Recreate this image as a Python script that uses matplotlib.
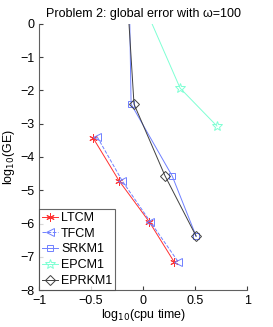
import matplotlib
matplotlib.use("Agg")
import matplotlib.pyplot as plt

plt.rcParams['font.family'] = ['Liberation Sans', 'DejaVu Sans']

ltcm_x = [-0.48, -0.23, 0.06, 0.30]
ltcm_y = [-3.43, -4.72, -5.95, -7.16]
tfcm_x = [-0.44, -0.20, 0.07, 0.34]
tfcm_y = [-3.40, -4.72, -5.95, -7.16]
srkm_x = [-0.13, -0.115, 0.28, 0.51]
srkm_y = [0.5, -2.41, -4.57, -6.38]
epcm_x = [0.0, 0.356, 0.71]
epcm_y = [0.62, -1.93, -3.07]
eprkm_x = [-0.145, -0.087, 0.21, 0.51]
eprkm_y = [0.5, -2.41, -4.56, -6.38]

fig = plt.figure(figsize=(2.73, 3.27), dpi=100)
ax = fig.add_axes([0.143, 0.113, 0.762, 0.814])

ax.plot(ltcm_x, ltcm_y, '-', color='#ff3030', marker=(6, 2, 0), ms=6, mew=0.7, lw=0.7, label='LTCM')
ax.plot(tfcm_x, tfcm_y, '--', color='#6f80ff', marker='<', ms=6, mfc='none', mew=0.7, lw=0.7, label='TFCM')
ax.plot(srkm_x, srkm_y, '-', color='#6f80ff', marker='s', ms=5, mfc='none', mew=0.7, lw=0.7, label='SRKM1')
ax.plot(epcm_x, epcm_y, '-', color='#7fffd4', marker='*', ms=7, mfc='none', mew=0.7, lw=0.7, label='EPCM1')
ax.plot(eprkm_x, eprkm_y, '-', color='#404040', marker='D', ms=5, mfc='none', mew=0.7, lw=0.7, label='EPRKM1')

ax.set_xlim(-1, 1)
ax.set_ylim(-8, 0)
ax.set_xticks([-1, -0.5, 0, 0.5, 1])
ax.set_xticklabels(['\u22121', '\u22120.5', '0', '0.5', '1'])
ax.set_yticks(range(-8, 1))
ax.set_yticklabels(['\u22128', '\u22127', '\u22126', '\u22125', '\u22124', '\u22123', '\u22122', '\u22121', '0'])
ax.tick_params(direction='in', labelsize=9, length=3, colors='#404040', labelcolor='black')
ax.spines['top'].set_visible(False)
ax.spines['right'].set_visible(False)
for s in ['left', 'bottom']:
    ax.spines[s].set_color('#606060')
    ax.spines[s].set_linewidth(0.8)

ax.set_xlabel(r'log$_{10}$(cpu time)', fontsize=9, labelpad=0)
ax.set_ylabel(r'log$_{10}$(GE)', fontsize=9, labelpad=2)
ax.set_title('Problem 2: global error with \u03c9=100', fontsize=9, pad=5)

leg = ax.legend(loc='lower left', fontsize=9, frameon=True, fancybox=False,
                borderpad=0.25, labelspacing=0.3, handlelength=1.3, handletextpad=0.2,
                borderaxespad=0.0)
leg.get_frame().set_edgecolor('#404040')
leg.get_frame().set_linewidth(0.8)

fig.savefig('out.png', dpi=100)
